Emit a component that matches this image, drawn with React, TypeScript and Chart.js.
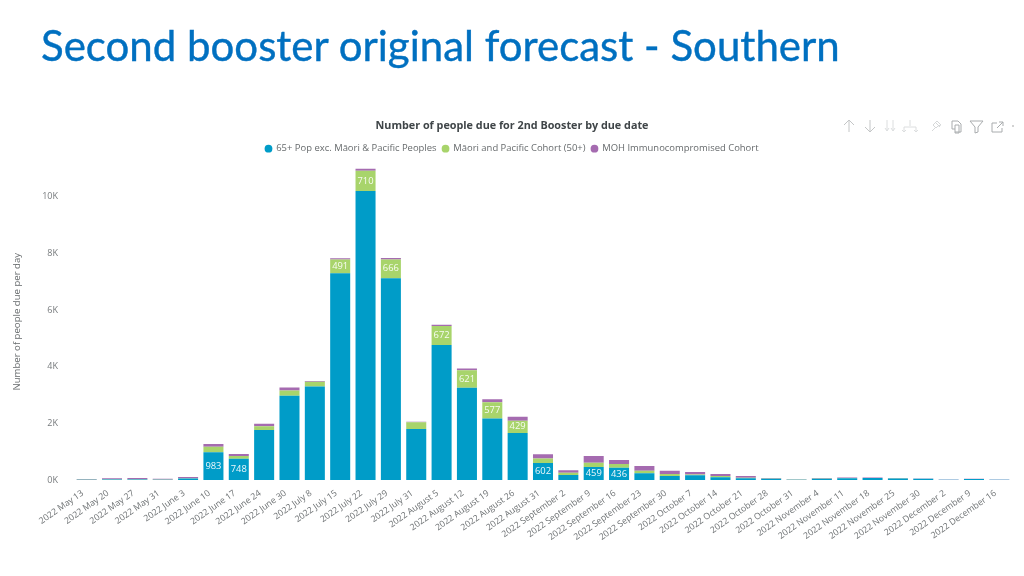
import React, { useEffect, useRef } from "react";
import { Chart, registerables } from "chart.js";

Chart.register(...registerables);

const pageTitle = "Second booster original forecast - Southern";
const chartTitle = "Number of people due for 2nd Booster by due date";
const yAxisTitle = "Number of people due per day";

const categories = [
  "2022 May 13", "2022 May 20", "2022 May 27", "2022 May 31", "2022 June 3", "2022 June 10",
  "2022 June 17", "2022 June 24", "2022 June 30", "2022 July 8", "2022 July 15", "2022 July 22",
  "2022 July 29", "2022 July 31", "2022 August 5", "2022 August 12", "2022 August 19", "2022 August 26",
  "2022 August 31", "2022 September 2", "2022 September 9", "2022 September 16", "2022 September 23",
  "2022 September 30", "2022 October 7", "2022 October 14", "2022 October 21", "2022 October 28",
  "2022 October 31", "2022 November 4", "2022 November 11", "2022 November 18", "2022 November 25",
  "2022 November 30", "2022 December 2", "2022 December 9", "2022 December 16",
];

const pop65 = [
  10, 15, 15, 10, 55, 983, 748, 1770, 2977, 3305, 7300, 10210, 7125, 1805, 4770, 3258, 2168, 1664,
  602, 175, 459, 436, 235, 140, 165, 95, 60, 40, 10, 45, 65, 70, 55, 45, 10, 35, 6,
];
const maoriPacific = [
  5, 10, 10, 5, 10, 190, 96, 130, 188, 165, 491, 710, 666, 235, 672, 621, 577, 429,
  160, 85, 150, 127, 93, 70, 30, 45, 22, 10, 5, 5, 5, 5, 5, 3, 3, 3, 3,
];
const immuno = [
  20, 35, 45, 30, 40, 95, 70, 90, 105, 25, 40, 70, 50, 20, 43, 59, 103, 145,
  150, 80, 235, 140, 165, 118, 90, 70, 58, 20, 10, 20, 20, 15, 10, 7, 7, 7, 6,
];

const seriesNames = [
  "65+ Pop exc. Māori & Pacific Peoples",
  "Māori and Pacific Cohort (50+)",
  "MOH Immunocompromised Cohort",
];
const yTicks = [0, 2000, 4000, 6000, 8000, 10000];

const FONT = "'Open Sans', sans-serif";

const segmentLabels = {
  id: "segmentLabels",
  afterDatasetsDraw(chart: any) {
    const { ctx } = chart;
    ctx.save();
    ctx.font = `9.4px ${FONT}`;
    ctx.fillStyle = "rgba(255,255,255,0.92)";
    ctx.textAlign = "center";
    ctx.textBaseline = "middle";
    chart.data.datasets.forEach((ds: any, di: number) => {
      if (di > 1) return;
      chart.getDatasetMeta(di).data.forEach((el: any, i: number) => {
        const v = ds.data[i];
        if (v < 400 || v >= 1000) return;
        ctx.fillText(String(v), el.x, (el.y + el.base) / 2);
      });
    });
    ctx.restore();
  },
};

export default function App() {
  const ref = useRef<HTMLCanvasElement>(null);
  useEffect(() => {
    const chart = new Chart(ref.current!, {
      type: "bar",
      plugins: [segmentLabels],
      data: {
        labels: categories,
        datasets: [
          { label: seriesNames[0], data: pop65, backgroundColor: "#009CC8" },
          { label: seriesNames[1], data: maoriPacific, backgroundColor: "#A8D46B" },
          { label: seriesNames[2], data: immuno, backgroundColor: "#A56BB0" },
        ],
      },
      options: {
        animation: false,
        responsive: false,
        layout: { padding: { top: 119, left: 12, right: 12, bottom: 0 } },
        datasets: { bar: { barPercentage: 0.79, categoryPercentage: 1 } },
        plugins: {
          title: {
            display: true,
            text: chartTitle,
            color: "#3f4548",
            font: { family: FONT, size: 10.8, weight: "bold" },
            padding: { top: 0, bottom: 6 },
          },
          legend: {
            position: "top",
            labels: {
              usePointStyle: true,
              pointStyle: "circle",
              boxWidth: 6,
              boxHeight: 5.5,
              padding: 6,
              color: "#666a6c",
              font: { family: FONT, size: 9.45 },
            },
          },
          tooltip: { enabled: false },
        },
        scales: {
          x: {
            stacked: true,
            grid: { display: false },
            border: { display: false },
            afterFit: (s: any) => { s.height = 96; },
            ticks: {
              autoSkip: false,
              minRotation: 35,
              maxRotation: 35,
              labelOffset: -4,
              color: "#6f7375",
              padding: 0,
              font: { family: FONT, size: 8.8 },
            },
          },
          y: {
            stacked: true,
            min: 0,
            max: 11180,
            grid: { display: false },
            border: { display: false },
            afterFit: (s: any) => { s.width = 62; },
            afterBuildTicks: (s: any) => { s.ticks = yTicks.map((value) => ({ value })); },
            title: {
              display: true,
              text: yAxisTitle,
              color: "#666a6c",
              font: { family: FONT, size: 9.6 },
              padding: 0,
            },
            ticks: {
              color: "#777b7d",
              padding: 8,
              font: { family: FONT, size: 9 },
              callback: (v: any) => `${Number(v) / 1000}K`,
            },
          },
        },
      } as any,
    });
    return () => chart.destroy();
  }, []);

  return (
    <div style={{ position: "absolute", left: 0, top: 0, width: 1024, height: 576, background: "#fff", overflow: "hidden" }}>
      <canvas ref={ref} width={1024} height={576} style={{ position: "absolute", left: 0, top: 0 }} />
      <div
        style={{
          position: "absolute",
          left: 41,
          top: 20,
          fontFamily: "Lato, sans-serif",
          fontSize: 42,
          lineHeight: "50px",
          color: "#0070C0",
          whiteSpace: "nowrap",
          WebkitTextStroke: "0.4px #0070C0",
        }}
      >
        {pageTitle}
      </div>
      <svg
        width={180}
        height={20}
        viewBox="0 0 180 20"
        style={{ position: "absolute", left: 838, top: 116 }}
        fill="none"
        stroke="#c4c6c7"
        strokeWidth={1}
      >
        <path d="M11 16V4M6 9l5-5 5 5" />
        <path d="M32 4v12M27 11l5 5 5-5" />
        <path d="M49 4v11M55 4v11M47 12l2 3 2-3M53 12l2 3 2-3" stroke="#dcdedf" />
        <path d="M72 4v6M66 16v-5h12v5M64 14l2 2 2-2M76 14l2 2 2-2" stroke="#dcdedf" />
        <path d="M94 15l4-4M97 6l5 5M99 5l4 4-3 1-2 2-3-3z" stroke="#d6d8d9" />
        <path d="M114 5h6l3 3v8h-6M114 5v8h3M117 9h4v8h-4z" stroke="#a9acae" />
        <path d="M132 5h13l-5 6v5l-3 1v-6z" stroke="#a9acae" />
        <path d="M159 7h-5v9h10v-4M159 12l6-6M161 6h4v4" stroke="#a9acae" />
        <circle cx={175} cy={10} r={0.8} fill="#999" stroke="none" />
      </svg>
    </div>
  );
}
